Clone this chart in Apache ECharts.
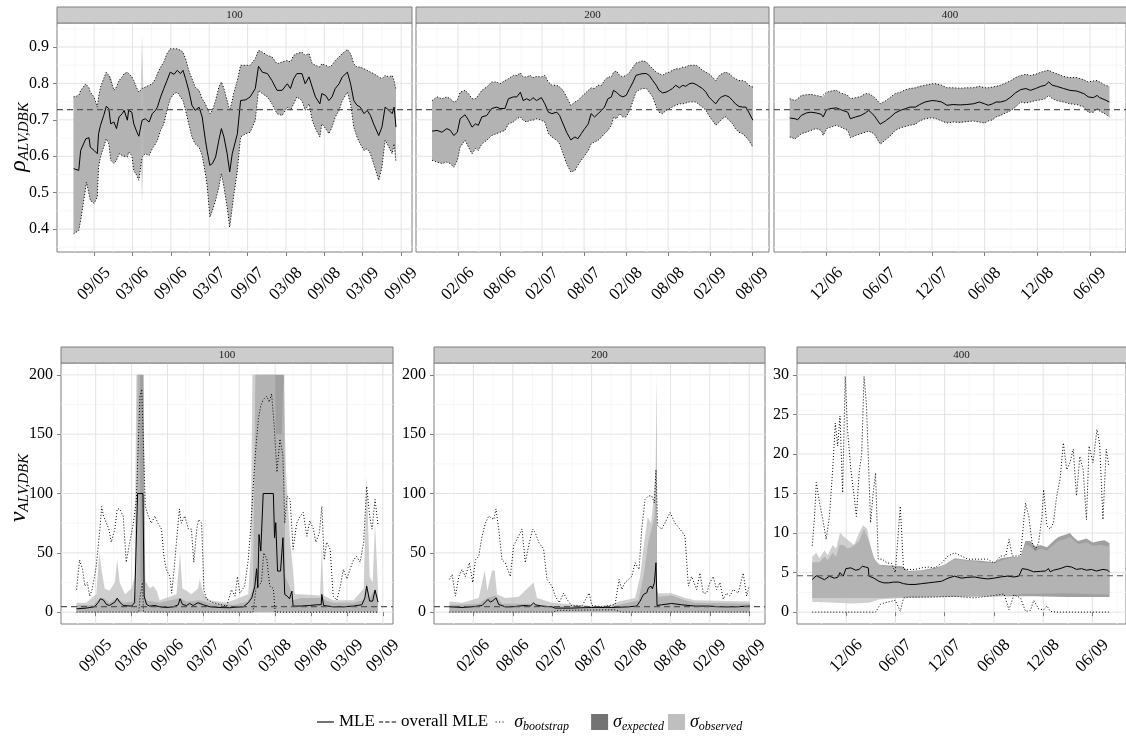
<!DOCTYPE html>
<html><head><meta charset="utf-8">
<script src="https://cdn.jsdelivr.net/npm/echarts@6/dist/echarts.min.js"></script>
<style>html,body{margin:0;padding:0;background:#fff}#c{width:1126px;height:740px}</style>
</head><body><div id="c"></div>
<script>
// x values: months since Jan 2000 (e.g. 68 = Sep 2005)
// ---------- tick labels ----------
const xTicks100 = [68,74,80,86,92,98,104,110,116];
const xTicks200 = [73,79,85,91,97,103,109,115];
const xTicks400 = [83,89,95,101,107,113];
const rhoTicks = [0.4,0.5,0.6,0.7,0.8,0.9];
const nuTicks200 = [0,50,100,150,200];
const nuTicks30 = [0,5,10,15,20,25,30];
const panelLabels = ['100','200','400'];

const rhoOverall = 0.728;
const nuOverall = 4.6;

// ---------- top row: rho ----------
const t100X = [64.8,65.6,65.9,66.7,66.8,67.2,67.4,68.0,68.5,68.7,69.0,69.5,69.9,70.3,70.6,71.1,71.5,71.9,72.4,72.7,73.2,73.4,73.9,74.2,74.7,75.0,75.5,76.0,76.6,77.1,77.6,77.9,78.4,78.9,79.4,79.9,80.5,81.0,81.5,81.9,82.3,82.8,83.3,83.8,84.4,84.9,85.4,85.7,86.1,86.5,87.0,87.5,87.9,88.3,88.8,89.2,89.6,89.8,90.4,90.9,91.7,92.4,93.2,93.7,94.3,95.1,95.8,96.6,97.4,98.2,98.7,99.2,99.7,100.5,101.0,101.6,102.1,102.6,103.3,103.6,104.2,104.7,105.2,105.7,106.3,106.8,107.6,108.1,108.6,109.1,109.6,110.2,110.7,111.2,111.7,112.5,113.0,113.5,114.1,114.6,114.9,115.2];
const t100Mle = [0.566,0.561,0.616,0.648,0.651,0.651,0.625,0.616,0.607,0.662,0.685,0.712,0.737,0.731,0.689,0.694,0.676,0.708,0.717,0.726,0.699,0.726,0.721,0.689,0.666,0.655,0.699,0.703,0.694,0.717,0.726,0.735,0.763,0.786,0.808,0.831,0.825,0.836,0.827,0.836,0.813,0.781,0.740,0.726,0.735,0.708,0.644,0.612,0.575,0.580,0.598,0.644,0.676,0.653,0.607,0.557,0.607,0.612,0.662,0.753,0.755,0.763,0.786,0.847,0.831,0.827,0.808,0.781,0.781,0.799,0.786,0.813,0.827,0.827,0.799,0.818,0.790,0.763,0.744,0.772,0.767,0.753,0.763,0.786,0.799,0.818,0.831,0.799,0.753,0.740,0.735,0.717,0.726,0.712,0.689,0.657,0.680,0.735,0.726,0.717,0.735,0.680];
const t100Up = [0.763,0.767,0.781,0.799,0.795,0.788,0.776,0.763,0.735,0.763,0.790,0.813,0.831,0.822,0.818,0.781,0.790,0.808,0.818,0.827,0.831,0.827,0.818,0.808,0.786,0.776,0.786,0.790,0.795,0.799,0.813,0.827,0.845,0.859,0.882,0.895,0.895,0.895,0.891,0.886,0.868,0.836,0.813,0.790,0.781,0.758,0.744,0.731,0.717,0.726,0.753,0.790,0.804,0.786,0.753,0.726,0.753,0.772,0.808,0.850,0.850,0.850,0.868,0.891,0.886,0.877,0.873,0.854,0.859,0.863,0.859,0.877,0.882,0.886,0.877,0.882,0.854,0.850,0.845,0.854,0.850,0.845,0.850,0.863,0.873,0.882,0.893,0.882,0.854,0.845,0.845,0.840,0.836,0.831,0.827,0.818,0.813,0.822,0.818,0.822,0.808,0.781];
const t100Lo = [0.387,0.396,0.424,0.515,0.529,0.497,0.479,0.470,0.488,0.570,0.598,0.625,0.648,0.634,0.589,0.580,0.589,0.607,0.602,0.598,0.598,0.612,0.602,0.561,0.547,0.534,0.598,0.607,0.602,0.621,0.634,0.644,0.671,0.689,0.726,0.758,0.772,0.776,0.763,0.753,0.726,0.689,0.653,0.634,0.625,0.602,0.552,0.515,0.433,0.451,0.479,0.515,0.552,0.515,0.460,0.405,0.460,0.488,0.561,0.653,0.662,0.666,0.699,0.781,0.772,0.763,0.744,0.717,0.712,0.735,0.726,0.744,0.763,0.753,0.726,0.744,0.699,0.676,0.653,0.689,0.676,0.662,0.680,0.708,0.726,0.753,0.776,0.744,0.680,0.653,0.634,0.616,0.621,0.607,0.580,0.534,0.570,0.644,0.625,0.607,0.634,0.584];
const t100ObsSpikeX = [75.3,75.5,75.7];
const t100ObsSpikeUp = [0.79,0.935,0.79];
const t100ObsSpikeLo = [0.60,0.47,0.60];

const t200X = [69.3,70.0,70.7,71.4,71.9,72.4,72.9,73.3,74.0,74.5,75.0,75.5,75.9,76.4,77.1,77.8,78.5,79.0,79.7,80.2,80.9,81.4,81.9,82.3,82.8,83.3,83.7,84.2,84.9,85.4,85.9,86.4,87.1,87.5,88.0,88.5,89.1,89.7,90.1,90.6,91.1,91.6,92.0,92.5,93.0,93.5,93.9,94.4,94.9,95.2,95.6,96.1,96.5,97.0,97.5,98.0,98.4,98.9,99.4,99.9,100.3,100.8,101.3,101.7,102.2,102.7,103.2,103.6,104.1,104.6,105.1,105.5,106.0,106.5,107.0,107.4,107.9,108.4,108.8,109.3,109.8,110.3,110.7,111.2,111.7,112.2,112.6,113.1,113.6,114.1,114.5,115.1];
const t200Mle = [0.669,0.671,0.666,0.676,0.671,0.657,0.666,0.703,0.714,0.699,0.680,0.689,0.685,0.708,0.712,0.731,0.735,0.731,0.731,0.758,0.763,0.763,0.776,0.753,0.758,0.753,0.761,0.753,0.761,0.744,0.721,0.717,0.721,0.712,0.689,0.666,0.645,0.653,0.648,0.662,0.676,0.689,0.717,0.708,0.717,0.726,0.735,0.758,0.763,0.781,0.776,0.767,0.763,0.767,0.786,0.804,0.822,0.825,0.827,0.827,0.822,0.808,0.795,0.781,0.774,0.776,0.781,0.786,0.795,0.788,0.795,0.792,0.799,0.801,0.797,0.792,0.786,0.776,0.763,0.753,0.744,0.758,0.764,0.767,0.763,0.753,0.744,0.737,0.735,0.735,0.721,0.699];
const t200Up = [0.753,0.763,0.758,0.763,0.758,0.749,0.753,0.776,0.781,0.772,0.758,0.758,0.767,0.781,0.790,0.804,0.804,0.799,0.808,0.813,0.822,0.822,0.829,0.818,0.818,0.822,0.816,0.819,0.818,0.822,0.804,0.795,0.795,0.790,0.781,0.763,0.740,0.749,0.753,0.763,0.772,0.781,0.788,0.786,0.795,0.795,0.808,0.818,0.818,0.831,0.834,0.822,0.818,0.822,0.831,0.845,0.856,0.859,0.862,0.859,0.850,0.840,0.831,0.827,0.822,0.829,0.831,0.836,0.840,0.840,0.845,0.845,0.850,0.850,0.850,0.845,0.836,0.831,0.827,0.818,0.808,0.822,0.827,0.831,0.827,0.818,0.813,0.808,0.808,0.804,0.795,0.790];
const t200Lo = [0.589,0.584,0.580,0.584,0.580,0.570,0.589,0.625,0.644,0.625,0.607,0.621,0.616,0.634,0.644,0.657,0.662,0.666,0.671,0.689,0.694,0.703,0.708,0.699,0.694,0.699,0.699,0.703,0.699,0.694,0.662,0.653,0.644,0.634,0.607,0.580,0.557,0.561,0.575,0.589,0.602,0.616,0.634,0.639,0.644,0.653,0.662,0.671,0.685,0.708,0.703,0.717,0.708,0.708,0.726,0.753,0.776,0.783,0.786,0.786,0.776,0.763,0.735,0.721,0.717,0.726,0.731,0.735,0.740,0.744,0.744,0.746,0.749,0.749,0.749,0.742,0.735,0.726,0.712,0.699,0.685,0.694,0.703,0.708,0.699,0.689,0.676,0.666,0.662,0.653,0.644,0.625];

const t400X = [78.8,79.4,79.7,80.1,80.7,81.2,81.8,82.4,82.6,83.0,83.5,84.1,84.6,85.4,85.7,86.3,86.9,87.4,87.8,88.4,89.1,89.7,90.3,90.8,91.4,92.0,92.5,93.1,93.6,94.2,95.0,95.5,96.1,96.7,97.4,98.2,98.9,99.7,100.4,101.0,101.4,101.9,102.3,102.8,103.4,104.0,104.5,105.1,105.7,106.2,106.8,107.4,107.9,108.3,108.7,109.2,110.0,110.7,111.5,112.3,112.8,113.4,113.8,114.1,114.7,115.2];
const t400Mle = [0.705,0.703,0.700,0.712,0.719,0.721,0.719,0.715,0.708,0.728,0.731,0.733,0.728,0.721,0.703,0.708,0.712,0.719,0.726,0.712,0.688,0.697,0.708,0.719,0.726,0.731,0.735,0.735,0.742,0.749,0.753,0.752,0.749,0.740,0.742,0.741,0.742,0.744,0.749,0.744,0.740,0.744,0.749,0.749,0.753,0.763,0.774,0.783,0.786,0.781,0.786,0.792,0.795,0.804,0.795,0.792,0.786,0.781,0.779,0.772,0.763,0.761,0.767,0.761,0.755,0.749];
const t400Up = [0.758,0.753,0.758,0.767,0.769,0.770,0.767,0.764,0.763,0.776,0.779,0.781,0.774,0.767,0.758,0.761,0.764,0.772,0.772,0.763,0.744,0.752,0.763,0.772,0.776,0.783,0.786,0.788,0.792,0.795,0.799,0.799,0.795,0.788,0.788,0.787,0.788,0.788,0.792,0.788,0.788,0.790,0.792,0.795,0.801,0.808,0.816,0.822,0.825,0.822,0.825,0.831,0.834,0.836,0.831,0.827,0.819,0.816,0.816,0.810,0.804,0.807,0.808,0.804,0.795,0.792];
const t400Lo = [0.653,0.648,0.653,0.662,0.666,0.671,0.676,0.671,0.657,0.676,0.680,0.685,0.680,0.671,0.651,0.657,0.662,0.666,0.669,0.662,0.633,0.645,0.657,0.671,0.678,0.682,0.685,0.688,0.697,0.703,0.706,0.703,0.697,0.691,0.694,0.693,0.695,0.697,0.694,0.691,0.697,0.700,0.708,0.712,0.719,0.726,0.735,0.749,0.746,0.749,0.753,0.755,0.758,0.767,0.758,0.753,0.749,0.744,0.742,0.735,0.721,0.721,0.731,0.724,0.717,0.708];

// ---------- bottom row: nu ([month, value]) ----------
const n100Mle = [[64.8,2.8],[66.4,3.4],[67.8,4.5],[68.4,7.9],[68.8,11.3],[69.3,10.1],[69.8,6.5],[70.3,5.6],[71.2,8.4],[71.6,11.8],[72.0,8.4],[72.6,5.6],[74.0,5.1],[74.5,7.9],[74.8,9.3],[75.0,100],[75.9,100],[76.1,13.5],[76.5,6.5],[77.0,5.1],[77.9,5.6],[78.7,4.5],[79.8,3.9],[81.0,4.5],[81.8,6.2],[82.1,11.3],[82.5,6.5],[83.2,5.6],[83.7,7.3],[84.3,5.6],[85.1,7.9],[85.4,8.4],[86.0,6.2],[87.1,4.5],[88.8,3.9],[90.4,3.7],[91.6,4.2],[92.7,4.5],[93.5,7.9],[94.1,12.1],[94.6,21.9],[94.9,36.6],[95.1,20.5],[95.3,65.5],[95.6,51.5],[96.0,100],[97.7,100],[97.9,62.7],[98.1,75.4],[98.4,34.6],[98.9,34.6],[99.3,62.7],[99.6,14.9],[100.0,13.5],[100.4,11.3],[100.8,17.7],[101.0,5.1],[102.2,5.1],[103.8,5.6],[104.9,6.2],[105.7,6.2],[105.8,14.9],[106.1,5.6],[107.7,4.5],[109.4,4.5],[111.1,5.1],[112.5,6.2],[113.0,12.1],[113.3,21.9],[113.8,9.3],[114.3,9.3],[114.7,18.6],[115.2,8.4]];
const n100BootUp = [[64.8,19],[65.3,44],[65.8,36],[66.2,22],[66.6,25],[67.0,13.5],[67.4,19],[67.8,30],[68.1,39],[68.7,70],[69.0,89],[69.3,81],[69.8,75],[70.2,70],[70.6,59],[71.2,70],[71.6,87],[72.0,87],[72.6,81],[73.1,42],[73.7,59],[74.3,75],[74.8,95],[75.4,182],[75.7,188],[75.9,154],[76.3,89],[76.8,81],[77.3,75],[77.9,81],[78.4,75],[79.0,70],[79.4,47],[79.8,36],[80.4,30],[80.7,16],[81.1,36],[81.5,59],[82.0,87],[82.3,75],[82.9,81],[83.5,70],[84.0,70],[84.4,42],[84.9,70],[85.2,78],[85.7,75],[86.1,19],[86.5,11],[87.6,8],[88.8,6.5],[89.9,5],[90.7,19],[91.3,13.5],[91.7,30],[92.1,16],[92.9,22],[93.5,44],[93.9,70],[94.3,103],[94.7,134],[95.2,163],[95.6,174],[96.0,179],[96.6,182],[97.0,177],[97.4,184],[97.8,160],[98.3,118],[98.8,146],[99.3,132],[99.6,75],[100.0,98],[100.5,95],[101.0,53],[101.6,75],[102.2,81],[102.7,84],[103.3,64],[103.8,77],[104.4,70],[104.8,59],[105.4,67],[105.8,89],[106.2,44],[106.6,59],[107.2,53],[107.7,13.5],[108.3,10],[108.9,22],[109.4,36],[110.0,28],[110.5,36],[111.1,44],[111.6,47],[112.2,42],[112.8,59],[113.3,106],[113.8,81],[114.2,70],[114.7,95],[115.2,73]];
const n100BootLo = [[64.8,0],[75.2,0],[75.4,12],[75.8,25],[76.0,0],[94.3,0],[94.8,20],[95.7,25],[96.1,50],[96.6,45],[97.1,22],[97.7,20],[98.0,0],[115.2,0]];
const n100ExpUp = [[64.8,6],[67.6,6],[68.7,12],[69.3,12],[70.3,8],[71.6,12],[72.6,8],[74.3,9],[74.8,20],[75.0,200],[76.0,200],[76.3,10],[78.7,8],[82.1,12],[83.2,9],[85.4,10],[87.6,7],[91.0,6],[93.5,9],[94.3,20],[94.7,200],[99.5,200],[99.7,30],[100.5,20],[101.0,10],[102.2,12],[105.5,12],[105.8,15],[106.3,10],[107.7,8],[111.1,8],[112.8,10],[113.3,25],[113.8,12],[114.7,20],[115.2,10]];
const n100ObsUp = [[64.8,8],[66.4,8],[68.1,15],[68.6,50],[69.0,35],[69.5,20],[70.3,18],[71.2,25],[71.6,45],[72.0,25],[72.9,15],[74.0,20],[74.5,30],[74.8,200],[75.4,200],[75.5,25],[76.5,25],[77.0,20],[77.6,22],[78.2,18],[78.7,10],[79.8,12],[81.5,15],[82.1,50],[82.5,20],[83.2,18],[84.0,15],[85.1,20],[85.4,28],[86.0,15],[87.1,10],[89.9,8],[93.5,15],[93.9,50],[94.2,200],[98.0,200],[98.1,150],[99.1,150],[99.4,200],[99.8,120],[100.5,60],[100.9,40],[101.3,15],[102.2,15],[105.5,14],[105.8,55],[106.1,14],[107.7,10],[111.1,10],[112.8,20],[113.3,115],[113.8,30],[114.3,25],[114.7,75],[115.2,20]];
const n100BandLo = [[64.8,0],[115.2,0]];

const n200Mle = [[69.35,4.5],[71.28,3.9],[72.8,4.5],[74.32,5.6],[74.82,8.4],[75.23,10.7],[75.58,8.4],[76.09,10.1],[76.44,12.1],[76.85,6.5],[77.86,4.5],[78.88,4.5],[79.89,5.1],[80.9,5.6],[81.66,5.1],[82.17,7.9],[82.42,6.2],[83.44,5.1],[84.96,4.5],[85.46,3.4],[86.48,3.4],[87.99,3.4],[89.51,3.7],[91.03,3.9],[92.55,3.9],[94.07,3.9],[95.59,4.2],[96.61,4.5],[97.87,5.1],[98.38,9.3],[98.89,14.9],[99.39,16.3],[99.65,20.5],[100.05,21.9],[100.25,19.7],[100.56,24.8],[100.8,41.6],[100.96,5.6],[101.67,6.2],[103.19,7.3],[104.71,6.2],[106.74,5.1],[108.76,5.1],[110.79,4.5],[112.82,4.5],[115.1,5.1]];
const n200BootUp = [[69.35,27.6],[69.76,31.8],[70.26,13.5],[70.77,30],[71.28,36],[71.78,30],[72.39,41.6],[72.9,25],[73.3,44],[73.81,47],[74.32,64],[74.82,75],[75.33,81],[76.09,78],[76.44,87],[76.85,70],[77.36,44],[77.86,41.6],[78.62,30],[79.13,56],[79.89,64],[80.4,70],[80.9,41.6],[81.41,56],[82.02,70],[82.42,67],[82.93,59],[83.69,53],[84.2,27.6],[84.96,22],[85.46,13.5],[86.07,8],[86.73,16],[87.23,11],[87.99,5],[88.75,5.6],[89.51,5],[90.63,16],[91.03,5.6],[92.55,4.5],[94.58,6.5],[95.19,27.6],[95.59,19],[96.1,25],[96.61,27.6],[97.11,30],[97.62,41.6],[98.23,36],[98.63,70],[99.14,95],[99.65,98],[100.15,98],[100.56,92],[100.8,120],[101.06,73],[101.67,70],[102.43,78],[102.94,84],[103.7,75],[104.46,70],[105.22,64],[105.73,22],[106.23,30],[106.99,19],[107.5,33],[108.0,16],[108.51,16],[109.02,25],[109.52,30],[110.03,19],[110.54,25],[111.04,11],[111.55,16],[112.06,13.5],[112.56,19],[113.32,16],[114.08,33],[114.59,13.5],[115.0,22]];
const n200BootLo = [[69.35,0],[85.0,0],[86.0,1.5],[94.5,2.0],[95.5,0],[115.1,0]];
const n200ExpUp = [[69.35,6],[73.81,7],[75.08,12],[76.34,14],[77.36,7],[81.41,7],[84.96,5],[94.07,5],[96.61,8],[98.13,10],[98.89,30],[99.65,60],[100.15,70],[100.56,80],[100.76,110],[100.86,200],[100.96,20],[101.17,13],[103.19,14],[105.22,10],[106.74,8],[115.1,7]];
const n200ObsUp = [[69.35,9],[71.28,8],[73.81,12],[74.72,35],[75.13,18],[75.84,35],[76.24,35],[76.6,15],[77.86,12],[79.89,13],[82.17,25],[82.68,12],[84.96,8],[91.54,5],[94.07,6],[95.09,9],[97.62,12],[98.38,30],[99.04,60],[99.54,80],[100.05,75],[100.41,95],[100.76,120],[100.96,15],[101.17,16],[103.19,16],[105.22,12],[106.74,10],[115.1,9]];
const n200BandLo = [[69.35,0],[115.1,0]];

const n400Mle = [[78.86,4.13],[79.35,4.6],[79.95,4.3],[80.35,4.1],[80.95,4.55],[81.55,4.3],[81.96,4.4],[82.24,5.0],[82.64,4.55],[82.96,5.5],[83.56,5.6],[84.16,5.3],[84.57,5.4],[84.97,5.8],[85.37,5.7],[85.69,5.6],[85.77,4.55],[86.37,4.3],[86.98,3.9],[87.58,3.7],[88.18,3.7],[88.78,3.8],[89.39,3.8],[89.99,3.6],[90.59,3.5],[91.39,3.5],[92.2,3.6],[93.0,3.7],[93.8,3.8],[94.61,3.9],[95.41,4.3],[96.21,4.55],[97.02,4.3],[97.82,4.4],[98.62,4.45],[99.43,4.3],[100.23,4.2],[101.03,4.3],[101.84,4.45],[102.64,4.55],[103.44,4.45],[104.04,4.55],[104.45,5.5],[105.05,5.4],[105.85,5.1],[106.65,5.15],[107.26,5.2],[107.66,5.5],[107.86,5.1],[108.26,5.3],[109.06,5.5],[109.87,5.8],[110.47,5.7],[111.07,5.4],[111.67,5.5],[112.28,5.3],[112.88,5.4],[113.48,5.2],[114.29,5.4],[114.89,5.3],[115.09,5.05]];
const n400BootUp = [[78.86,8.4],[79.14,12.1],[79.35,16.4],[79.75,13.8],[80.15,11.7],[80.55,9.2],[80.95,12.1],[81.35,18],[81.67,23.9],[81.96,21],[82.24,24.8],[82.56,15.1],[82.88,29.8],[83.16,23.1],[83.56,18],[83.96,14.7],[84.24,12.1],[84.57,17.6],[84.89,20.1],[85.17,29.8],[85.45,26.5],[85.69,19.7],[85.97,11.3],[86.25,14.7],[86.57,17.6],[86.9,6.7],[87.38,6.7],[87.98,6.2],[88.5,6.2],[88.98,5],[89.59,13.4],[89.99,5.4],[90.59,5.4],[91.39,5.4],[92.2,5.6],[93.0,5.7],[93.8,5.6],[94.61,6.2],[95.41,7.1],[96.21,7.5],[97.02,7.1],[97.82,6.7],[98.62,6.7],[99.43,6.7],[100.23,6.7],[101.03,6.2],[101.84,7.1],[102.44,7.1],[102.84,9.2],[103.24,7.1],[103.64,7.1],[104.24,7.1],[104.85,13.8],[105.25,12.1],[105.65,8.8],[106.05,7.9],[106.45,8.8],[106.86,12.1],[107.06,15.5],[107.46,10.9],[107.86,10.5],[108.26,11.3],[108.66,14.7],[109.06,16.8],[109.47,21.4],[109.87,18],[110.27,18.9],[110.67,20.6],[111.07,14.7],[111.47,19.7],[111.88,18],[112.28,11.7],[112.6,21],[113.08,18.9],[113.56,23.1],[113.88,21.4],[114.29,11.7],[114.69,20.6],[115.01,18.5]];
const n400BootLo = [[78.86,0],[86.57,0],[87.18,1.0],[87.78,1.2],[88.98,1.5],[89.59,0.1],[89.99,1.8],[90.59,1.9],[93.8,1.9],[96.21,2.0],[98.62,1.8],[101.03,2.1],[102.24,2.3],[102.84,0.3],[103.44,2.2],[104.24,1.8],[104.85,0.1],[105.45,0.2],[105.85,1.5],[106.45,0.4],[107.06,0.3],[107.46,0.8],[107.86,0.1],[108.66,0],[115.09,0]];
const n400ExpUp = [[78.86,6.3],[79.75,6.3],[80.35,7.0],[80.75,6.6],[81.35,7.5],[81.76,7.0],[82.16,8.5],[82.64,8.5],[83.16,8.0],[83.76,8.3],[84.57,9.0],[85.17,10.5],[85.77,9.0],[86.37,6.8],[86.98,6.0],[88.18,5.9],[89.79,5.8],[90.59,5.2],[92.2,5.3],[93.8,5.6],[95.01,6.0],[96.21,6.8],[97.82,6.6],[99.43,6.5],[101.03,6.3],[101.84,6.8],[103.04,7.0],[104.24,7.0],[104.85,9.0],[105.45,9.0],[106.05,8.3],[106.65,8.5],[107.46,8.2],[108.26,9.0],[108.86,9.5],[109.67,9.8],[110.27,10.0],[110.67,9.5],[111.27,9.0],[112.28,9.3],[113.08,8.8],[113.88,9.0],[114.49,9.1],[115.09,8.7]];
const n400ExpLo = [[78.86,1.8],[86.98,1.8],[93.8,1.9],[101.84,2.0],[105.85,2.0],[109.87,1.9],[115.09,1.9]];
const n400ObsUp = [[78.86,7.0],[79.35,7.5],[79.75,6.8],[80.35,7.8],[80.75,7.2],[81.35,8.5],[81.76,8.0],[82.24,10.0],[82.76,9.5],[83.36,9.0],[83.96,8.5],[84.57,10.0],[85.05,11.0],[85.57,10.5],[85.97,8.0],[86.57,6.5],[87.38,5.8],[88.98,5.7],[89.79,5.5],[90.59,5.1],[92.2,5.2],[93.8,5.5],[95.01,6.0],[96.21,6.7],[97.82,6.5],[99.43,6.3],[101.03,6.2],[101.84,6.5],[103.04,6.9],[104.24,7.0],[104.85,8.5],[105.45,8.3],[106.05,7.7],[106.65,8.0],[107.46,7.8],[108.26,8.5],[108.86,9.0],[109.67,9.2],[110.27,9.5],[111.27,8.6],[112.28,8.8],[113.08,8.4],[113.88,8.5],[115.09,8.3]];
const n400ObsLo = [[78.86,1.3],[81.76,1.2],[83.76,1.1],[85.77,1.2],[86.98,1.6],[89.79,1.8],[93.8,1.9],[101.84,2.0],[104.24,2.3],[109.87,2.4],[115.09,2.2]];

// ---------- styling ----------
const FONT = 'Liberation Serif';
const EXP_COLOR = '#a0a0a0';
const OBS_COLOR = 'rgba(186,186,186,0.7)';
const zip = (xs, ys) => xs.map((x, i) => [x, ys[i]]);
const minorOf = (ticks, lo, hi) => {
  const step = ticks[1] - ticks[0], out = [];
  for (let v = ticks[0] - step / 2; v <= hi; v += step) if (v >= lo) out.push(+v.toFixed(4));
  return out;
};
const monthLabel = m => { const y = Math.floor(m / 12 + 1e-9); const mo = Math.round(m - y * 12) + 1; return String(mo).padStart(2, '0') + '/' + String(y).padStart(2, '0'); };

const panels = [
  {grid:{left:57, top:23, width:355, height:229}, x:[62.2,117.7], y:[0.337,0.966], xt:xTicks100, yt:rhoTicks, showY:true, fmt:v=>v.toFixed(1), label:panelLabels[0]},
  {grid:{left:416, top:23, width:353, height:229}, x:[67.0,117.4], y:[0.337,0.966], xt:xTicks200, yt:rhoTicks, showY:false, fmt:v=>v.toFixed(1), label:panelLabels[1]},
  {grid:{left:774, top:23, width:356, height:229}, x:[77.0,117.1], y:[0.337,0.966], xt:xTicks400, yt:rhoTicks, showY:false, fmt:v=>v.toFixed(1), label:panelLabels[2]},
  {grid:{left:61, top:363, width:332, height:261}, x:[62.2,117.7], y:[-10,210], xt:xTicks100, yt:nuTicks200, showY:true, fmt:v=>String(v), label:panelLabels[0]},
  {grid:{left:434, top:363, width:331, height:261}, x:[67.0,117.4], y:[-10,210], xt:xTicks200, yt:nuTicks200, showY:true, fmt:v=>String(v), label:panelLabels[1]},
  {grid:{left:797, top:363, width:333, height:261}, x:[77.0,117.1], y:[-1.5,31.5], xt:xTicks400, yt:nuTicks30, showY:true, fmt:v=>String(v), label:panelLabels[2]}
];

const grids = [], xAxes = [], yAxes = [], series = [], graphics = [];
panels.forEach((p, i) => {
  grids.push(Object.assign({show:true, borderColor:'#7f7f7f', borderWidth:1, backgroundColor:'#fff', containLabel:false}, p.grid));
  xAxes.push({type:'value', gridIndex:i, min:p.x[0], max:p.x[1],
    axisLine:{show:false}, splitLine:{show:false},
    axisTick:{show:true, length:4, customValues:p.xt, lineStyle:{color:'#7f7f7f'}},
    axisLabel:{show:true, customValues:p.xt, showMinLabel:true, showMaxLabel:true, hideOverlap:false,
      rotate:45, margin:32, align:'center', verticalAlign:'middle', lineHeight:12,
      fontFamily:FONT, fontSize:17, color:'#000', formatter:monthLabel}});
  yAxes.push({type:'value', gridIndex:i, min:p.y[0], max:p.y[1],
    axisLine:{show:false}, splitLine:{show:false},
    axisTick:{show:p.showY, length:4, customValues:p.yt, lineStyle:{color:'#7f7f7f'}},
    axisLabel:{show:p.showY, customValues:p.yt, showMinLabel:true, showMaxLabel:true, margin:8,
      fontFamily:FONT, fontSize:16, color:'#000', formatter:p.fmt}});
  const xMinor = minorOf(p.xt, p.x[0], p.x[1]);
  const yMinor = minorOf(p.yt, p.y[0], p.y[1]);
  series.push({type:'custom', xAxisIndex:i, yAxisIndex:i, silent:true, z:0, clip:true,
    data:[[p.xt[0], p.yt[0]]],
    renderItem(params, api){
      const cs = params.coordSys, ch = [];
      const v = (val, col, w) => { const x = api.coord([val, p.yt[0]])[0]; ch.push({type:'line', shape:{x1:x, y1:cs.y, x2:x, y2:cs.y + cs.height}, style:{stroke:col, lineWidth:w}}); };
      const h = (val, col, w) => { const y = api.coord([p.xt[0], val])[1]; ch.push({type:'line', shape:{x1:cs.x, y1:y, x2:cs.x + cs.width, y2:y}, style:{stroke:col, lineWidth:w}}); };
      xMinor.forEach(t => v(t, '#f5f5f5', 0.8)); yMinor.forEach(t => h(t, '#f5f5f5', 0.8));
      p.xt.forEach(t => v(t, '#e3e3e3', 1)); p.yt.forEach(t => h(t, '#e3e3e3', 1));
      return {type:'group', children:ch};
    }});
  // strip
  graphics.push({type:'rect', shape:{x:p.grid.left, y:p.grid.top - 16, width:p.grid.width, height:16},
    style:{fill:'#cccccc', stroke:'#7f7f7f', lineWidth:1}, z:10});
  graphics.push({type:'text', x:p.grid.left + Math.min(p.grid.width, 1126 - p.grid.left) / 2, y:p.grid.top - 8,
    style:{text:p.label, font:'11px "' + FONT + '"', fill:'#1a1a1a', align:'center', verticalAlign:'middle'}, z:11});
});

function band(name, gi, up, lo, color, z){
  return {type:'custom', name, xAxisIndex:gi, yAxisIndex:gi, z, silent:true, clip:true,
    itemStyle:{color}, data:[up[0]],
    renderItem(params, api){
      const pts = up.map(q => api.coord(q)).concat(lo.slice().reverse().map(q => api.coord(q)));
      return {type:'polygon', shape:{points:pts}, style:{fill:color}};
    }};
}
function line(name, gi, pts, ls, z){
  return {type:'line', name, xAxisIndex:gi, yAxisIndex:gi, data:pts, symbol:'none', showSymbol:false,
    silent:true, z, clip:true, lineStyle:ls, itemStyle:{color:ls.color}};
}
const MLE_S = {color:'#000', width:1};
const BOOT_S = {color:'#000', width:1, type:[1,2]};
const OVR_S = {color:'#555', width:1.2, type:[6,4]};

function addPanel(gi, mle, bootUp, bootLo, expUp, expLo, obsUp, obsLo, overall){
  const p = panels[gi];
  series.push(band('σ_expected', gi, expUp, expLo, EXP_COLOR, 1));
  series.push(band('σ_observed', gi, obsUp, obsLo, OBS_COLOR, 2));
  series.push(line('σ_bootstrap', gi, bootUp, BOOT_S, 3));
  series.push(line('σ_bootstrap', gi, bootLo, BOOT_S, 3));
  series.push(line('MLE', gi, mle, MLE_S, 4));
  series.push(line('overall MLE', gi, [[p.x[0], overall], [p.x[1], overall]], OVR_S, 5));
}
// top row
[[t100X,t100Mle,t100Up,t100Lo],[t200X,t200Mle,t200Up,t200Lo],[t400X,t400Mle,t400Up,t400Lo]].forEach((d, gi) => {
  const up = zip(d[0], d[2]), lo = zip(d[0], d[3]);
  addPanel(gi, zip(d[0], d[1]), up, lo, up, lo, up, lo, rhoOverall);
});
series.push(band('σ_observed', 0, zip(t100ObsSpikeX, t100ObsSpikeUp), zip(t100ObsSpikeX, t100ObsSpikeLo), OBS_COLOR, 2));
// bottom row
addPanel(3, n100Mle, n100BootUp, n100BootLo, n100ExpUp, n100BandLo, n100ObsUp, n100BandLo, nuOverall);
addPanel(4, n200Mle, n200BootUp, n200BootLo, n200ExpUp, n200BandLo, n200ObsUp, n200BandLo, nuOverall);
addPanel(5, n400Mle, n400BootUp, n400BootLo, n400ExpUp, n400ExpLo, n400ObsUp, n400ObsLo, nuOverall);

// axis titles
const titleRich = {
  r:{fontFamily:FONT, fontStyle:'italic', fontSize:24, lineHeight:26, fill:'#000'},
  s:{fontFamily:FONT, fontStyle:'italic', fontSize:15, lineHeight:15, verticalAlign:'bottom', fill:'#000'}
};
graphics.push({type:'text', x:19, y:137, rotation:Math.PI/2, style:{text:'{r|ρ}{s|ALV,DBK}', align:'center', verticalAlign:'middle', rich:titleRich}});
graphics.push({type:'text', x:19, y:488, rotation:Math.PI/2, style:{text:'{r|ν}{s|ALV,DBK}', align:'center', verticalAlign:'middle', rich:titleRich}});

const chart = echarts.init(document.getElementById('c'));
chart.setOption({
  animation:false,
  backgroundColor:'#fff',
  grid:grids, xAxis:xAxes, yAxis:yAxes, series,
  graphic:graphics,
  legend:{left:317, top:713, padding:0, itemGap:4, itemWidth:17, itemHeight:16, symbolKeepAspect:true,
    data:[
      {name:'MLE', icon:'path://M0,0h20v1.3h-20z', itemStyle:{color:'#000'}},
      {name:'overall MLE', icon:'path://M0,0h5v1.3h-5zM7.5,0h5v1.3h-5zM15,0h5v1.3h-5z', itemStyle:{color:'#000'}},
      {name:'σ_bootstrap', icon:'path://M4,0h1.3v1.3h-1.3zM8,0h1.3v1.3h-1.3zM12,0h1.3v1.3h-1.3zM0,0h0.01v0.01h-0.01zM19.99,0h0.01v0.01h-0.01z', itemStyle:{color:'#000'}},
      {name:'σ_expected', icon:'rect', itemStyle:{color:'#737373'}},
      {name:'σ_observed', icon:'rect', itemStyle:{color:'#bfbfbf'}}
    ],
    formatter: n => n === 'σ_bootstrap' ? '{g|σ}{sp|bootstrap}' : n === 'σ_expected' ? '{g|σ}{s|expected}' : n === 'σ_observed' ? '{g|σ}{s|observed}' : '{m|' + n + '}',
    textStyle:{fontFamily:FONT, fontSize:17, color:'#000', rich:{
      m:{fontFamily:FONT, fontSize:17, lineHeight:22, color:'#000'},
      g:{fontFamily:FONT, fontSize:18, fontStyle:'italic', lineHeight:22, color:'#000'},
      s:{fontFamily:FONT, fontSize:12, fontStyle:'italic', lineHeight:13, verticalAlign:'bottom', color:'#000'},
      sp:{fontFamily:FONT, fontSize:12, fontStyle:'italic', lineHeight:13, verticalAlign:'bottom', color:'#000', padding:[0,18,0,0]}
    }}
  }
});
</script></body></html>
